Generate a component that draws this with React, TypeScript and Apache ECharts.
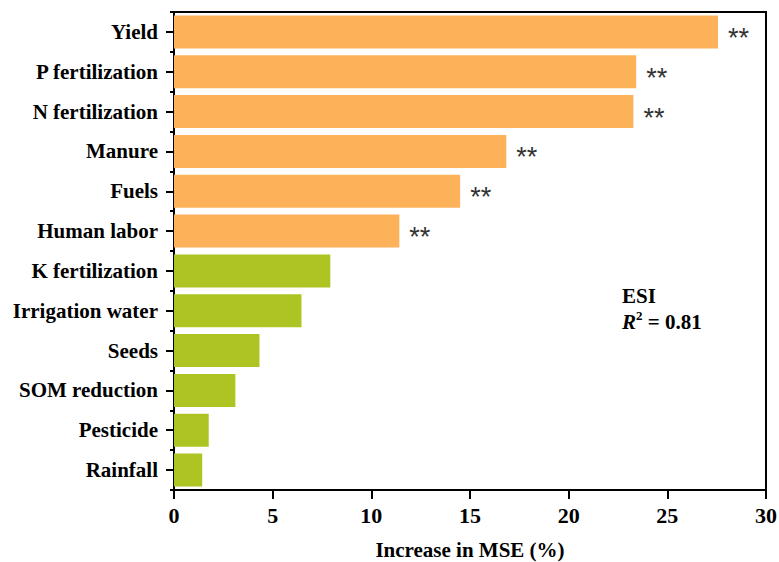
import React, { useEffect, useRef } from "react";
import * as echarts from "echarts";

const categories = [
  "Yield",
  "P fertilization",
  "N fertilization",
  "Manure",
  "Fuels",
  "Human labor",
  "K fertilization",
  "Irrigation water",
  "Seeds",
  "SOM reduction",
  "Pesticide",
  "Rainfall",
];
const values = [27.57, 23.42, 23.28, 16.84, 14.5, 11.42, 7.92, 6.46, 4.33, 3.11, 1.76, 1.43];
const significance = ["**", "**", "**", "**", "**", "**", "", "", "", "", "", ""];
const groups = ["sig", "sig", "sig", "sig", "sig", "sig", "ns", "ns", "ns", "ns", "ns", "ns"];
const xTicks = [0, 5, 10, 15, 20, 25, 30];

const COLORS: Record<string, string> = { sig: "#FDB25A", ns: "#AEC423" };
const SERIF = "'Liberation Serif', 'Times New Roman', serif";

export default function App() {
  const ref = useRef<HTMLDivElement>(null);
  useEffect(() => {
    if (!ref.current) return;
    const chart = echarts.init(ref.current, undefined, { renderer: "svg" });
    const data = values.map((v, i) => ({
      value: v,
      itemStyle: { color: COLORS[groups[i]] },
      label: {
        show: significance[i] !== "",
        formatter: significance[i],
      },
    }));
    chart.setOption({
      animation: false,
      grid: {
        left: 174,
        right: 13,
        top: 12,
        bottom: 72,
        containLabel: false,
        outerBoundsMode: "none",
        show: true,
        borderColor: "#000",
        borderWidth: 2,
        backgroundColor: "transparent",
      },
      xAxis: {
        type: "value",
        min: xTicks[0],
        max: xTicks[xTicks.length - 1],
        interval: 5,
        splitLine: { show: false },
        axisLine: { show: true, lineStyle: { color: "#000", width: 2 } },
        axisTick: { show: true, inside: false, length: 9, lineStyle: { color: "#000", width: 2 } },
        axisLabel: {
          color: "#000",
          fontFamily: SERIF,
          fontWeight: "bold",
          fontSize: 22,
          margin: 14,
        },
        name: "Increase in MSE (%)",
        nameLocation: "middle",
        nameGap: 49,
        nameTextStyle: {
          color: "#000",
          fontFamily: SERIF,
          fontWeight: "bold",
          fontSize: 21,
        },
      },
      yAxis: [
        {
          type: "category",
          data: categories,
          inverse: true,
          axisLine: { show: true, lineStyle: { color: "#000", width: 2 } },
          axisTick: {
            show: true,
            alignWithLabel: true,
            length: 8,
            lineStyle: { color: "#000", width: 2 },
          },
          axisLabel: {
            color: "#000",
            fontFamily: SERIF,
            fontWeight: "bold",
            fontSize: 21,
            margin: 16,
          },
        },
        {
          type: "category",
          data: categories,
          inverse: true,
          position: "left",
          axisLine: { show: false },
          axisTick: {
            show: true,
            alignWithLabel: false,
            length: 4,
            lineStyle: { color: "#000", width: 2 },
          },
          axisLabel: { show: false },
        },
      ],
      series: [
        {
          type: "bar",
          yAxisIndex: 0,
          data,
          barCategoryGap: "17%",
          label: {
            position: "right",
            distance: 10,
            color: "#333",
            fontFamily: "'Liberation Sans', Arial, sans-serif",
            fontSize: 27,
            offset: [0, 6],
          },
        },
      ],
      graphic: [
        {
          type: "text",
          left: 622,
          top: 283,
          style: {
            text: "ESI\n{i|R}{s|2}{n| = 0.81}",
            fill: "#000",
            font: `bold 21px ${SERIF}`,
            lineHeight: 26,
            rich: {
              i: { fontFamily: SERIF, fontWeight: "bold", fontStyle: "italic", fontSize: 21, fill: "#000" },
              s: { fontFamily: SERIF, fontWeight: "bold", fontSize: 13, fill: "#000", verticalAlign: "top", padding: [0, 0, 8, 0] },
              n: { fontFamily: SERIF, fontWeight: "bold", fontSize: 21, fill: "#000" },
            },
          },
        },
      ],
    });
    return () => chart.dispose();
  }, []);
  return <div ref={ref} style={{ width: 779, height: 562, position: "absolute", left: 0, top: 0, background: "#fff" }} />;
}
